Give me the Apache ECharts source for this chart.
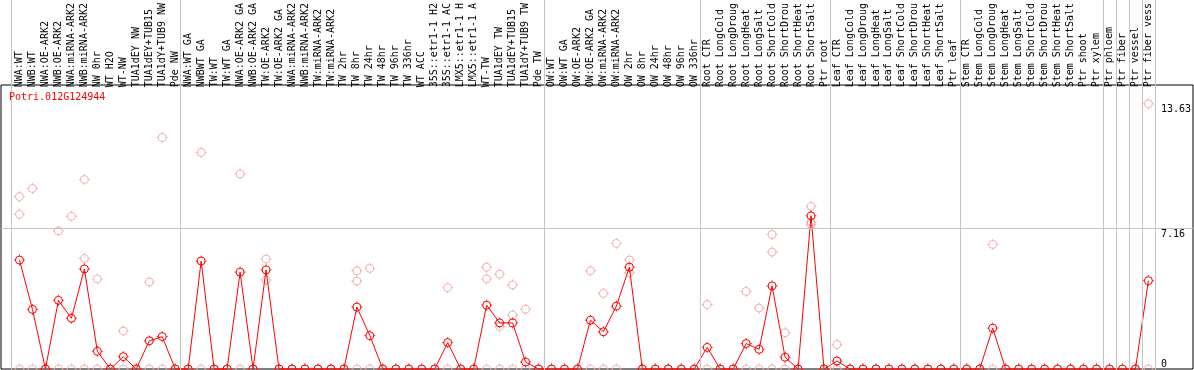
<!DOCTYPE html>
<html><head><meta charset="utf-8">
<script src="https://cdn.jsdelivr.net/npm/echarts@6/dist/echarts.min.js"></script>
<style>html,body{margin:0;padding:0;background:#fff}#c{width:1194px;height:370px}</style>
</head><body><div id="c"></div>
<script>
const geneId = 'Potri.012G124944';

const categories = [
  'NWA:WT','NWB:WT','NWA:OE-ARK2','NWB:OE-ARK2','NWA:miRNA-ARK2','NWB:miRNA-ARK2','NW 0hr','WT H2O','WT-NW',
  'TUA1dEY NW','TUA1dEY+TUB15','TUA1dY+TUB9 NW','Pde NW',
  'NWA:WT GA','NWBWT GA','TW:WT','TW:WT GA','NWA:OE-ARK2 GA','NWB:OE-ARK2 GA','TW:OE-ARK2','TW:OE-ARK2 GA',
  'NWA:miRNA-ARK2','NWB:miRNA-ARK2','TW:miRNA-ARK2','TW:miRNA-ARK2','TW 2hr','TW 8hr','TW 24hr','TW 48hr','TW 96hr',
  'TW 336hr','WT ACC','35S::etr1-1 H2','35S::etr1-1 AC','LMX5::etr1-1 H','LMX5::etr1-1 A','WT-TW','TUA1dEY TW',
  'TUA1dEY+TUB15','TUA1dY+TUB9 TW','Pde TW',
  'OW:WT','OW:WT GA','OW:OE-ARK2','OW:OE-ARK2 GA','OW:miRNA-ARK2','OW:miRNA-ARK2','OW 2hr','OW 8hr','OW 24hr',
  'OW 48hr','OW 96hr','OW 336hr',
  'Root CTR','Root LongCold','Root LongDroug','Root LongHeat','Root LongSalt','Root ShortCold','Root ShortDrou',
  'Root ShortHeat','Root ShortSalt','Ptr root',
  'Leaf CTR','Leaf LongCold','Leaf LongDroug','Leaf LongHeat','Leaf LongSalt','Leaf ShortCold','Leaf ShortDrou',
  'Leaf ShortHeat','Leaf ShortSalt','Ptr leaf',
  'Stem CTR','Stem LongCold','Stem LongDroug','Stem LongHeat','Stem LongSalt','Stem ShortCold','Stem ShortDrou',
  'Stem ShortHeat','Stem ShortSalt','Ptr shoot','Ptr xylem',
  'Ptr phloem','Ptr fiber','Ptr vessel','Ptr fiber vess'
];

// mean expression per sample
const meanValues = [
  5.65,3.09,0,3.56,2.63,5.19,0.92,0,0.64,0,1.46,1.68,0,
  0,5.60,0,0,5.02,0,5.14,0,0,0,0,0,0,3.21,1.73,0,0,0,0,0,1.37,0,0,3.31,2.39,2.39,0.36,0,
  0,0,0,2.53,1.93,3.26,5.28,0,0,0,0,0,
  1.12,0,0,1.32,1.02,4.31,0.61,0,7.94,0,
  0.41,0,0,0,0,0,0,0,0,0,
  0,0,2.12,0,0,0,0,0,0,0,0,
  0,0,0,4.58
];

// individual replicate values per sample
const replicateValues = [
  [8.94,8.02,0],[9.36,0],[0],[7.16,0],[7.92,0],[9.82,5.73,0],[4.67,0],[0],[1.97,0],[0],[4.51,0],[12.0,0],[0],
  [0],[11.23,0],[0],[0],[10.11,0],[0],[5.70,4.61],[0],[0],[0],[0],[0],[0],[5.09,4.56,0],[5.22,0],[0],[0],
  [0],[0],[0],[4.22,0],[0],[0],[5.28,4.67,0],[4.92,2.20,0],[4.36,2.80,0],[3.10,0],[0],
  [0],[0],[0],[5.09,0],[3.92,0],[6.51,0],[5.65,4.99],[0],[0],[0],[0],[0],
  [3.34,0],[0],[0],[4.02,0],[3.16,0],[6.97,6.06,0],[1.88,0],[0],[8.43,7.62,7.50],[0],
  [1.27,0],[0],[0],[0],[0],[0],[0],[0],[0],[0],
  [0],[0],[6.46,0],[0],[0],[0],[0],[0],[0],[0],[0],
  [0],[0],[0],[13.75,0]
];

const groupSizes = [13, 28, 12, 10, 10, 11, 1, 1, 1, 1];
const yTickLabels = [0, 7.16, 13.63];
const refLineValue = 7.16;
const yMax = 14.45;

// ---- build ----
const FONT = 'DejaVu Sans Mono';
const ticks = 'path://M0,-5.5L0,-3.5M0,3.5L0,5.5M-5.5,0L-3.5,0M3.5,0L5.5,0';
const N = categories.length;
const boundaries = [0];
groupSizes.forEach(s => boundaries.push(boundaries[boundaries.length - 1] + s));
const repPoints = [];
replicateValues.forEach((arr, i) => arr.forEach(v => repPoints.push([i, v])));
const RED = '#ff0000', PALE = '#eea0a0';

function markerSeries(data, color, z, shape, size) {
  return {type: 'scatter', xAxisIndex: 0, yAxisIndex: 0, data: data, symbol: shape, symbolSize: size, z: z,
          silent: true, itemStyle: {color: 'rgba(0,0,0,0)', borderColor: color, borderWidth: 1}};
}

const chart = echarts.init(document.getElementById('c'), null, {renderer: 'canvas'});
chart.setOption({
  animation: false,
  backgroundColor: '#fff',
  title: {
    text: geneId, left: 9, top: 92, padding: 0,
    textStyle: {color: RED, fontSize: 10, fontWeight: 'normal', fontFamily: FONT}
  },
  grid: [
    {left: 13, right: 37, top: 85, bottom: 1},
    {left: 1, right: 1, top: 85, bottom: 1, show: true, borderColor: '#000', borderWidth: 1, backgroundColor: 'transparent'},
    {left: 0, right: 37, top: 0, bottom: 0}
  ],
  xAxis: [
    {gridIndex: 0, type: 'category', position: 'top', data: categories, boundaryGap: true,
     axisLine: {show: false}, axisTick: {show: false}, splitLine: {show: false},
     axisLabel: {interval: 0, rotate: 90, margin: 3, fontSize: 10, fontFamily: FONT, color: '#000'}},
    {gridIndex: 1, type: 'value', min: 0, max: 1, show: false},
    {gridIndex: 2, type: 'value', min: -1.5, max: N - 0.5, show: false}
  ],
  yAxis: [
    {gridIndex: 0, type: 'value', min: 0, max: yMax, show: false},
    {gridIndex: 0, type: 'value', min: 0, max: yMax, position: 'right',
     axisLine: {show: false}, axisTick: {show: false}, splitLine: {show: false},
     axisLabel: {customValues: yTickLabels.filter(v => v > 0), verticalAlign: 'top', align: 'left', margin: 6,
                 lineHeight: 7, fontSize: 10, fontFamily: FONT, color: '#000'}},
    {gridIndex: 0, type: 'value', min: 0, max: yMax, position: 'right',
     axisLine: {show: false}, axisTick: {show: false}, splitLine: {show: false},
     axisLabel: {customValues: yTickLabels.filter(v => v === 0), verticalAlign: 'bottom', align: 'left', margin: 6,
                 fontSize: 10, fontFamily: FONT, color: '#000'}},
    {gridIndex: 1, type: 'value', min: 0, max: yMax, show: false},
    {gridIndex: 2, type: 'value', min: 0, max: 1, show: false}
  ],
  series: [
    {type: 'line', xAxisIndex: 2, yAxisIndex: 4, data: [], z: 0, silent: true,
     markLine: {silent: true, symbol: ['none', 'none'], label: {show: false},
                lineStyle: {color: '#c4c4c4', width: 1, type: 'solid'},
                data: boundaries.map(k => ({xAxis: k - 0.65}))}},
    {type: 'line', xAxisIndex: 1, yAxisIndex: 3, data: [], z: 0, silent: true,
     markLine: {silent: true, symbol: ['none', 'none'], label: {show: false},
                lineStyle: {color: '#c4c4c4', width: 1, type: 'solid'},
                data: [{yAxis: refLineValue}]}},
    markerSeries(repPoints, PALE, 2, 'circle', 8),
    markerSeries(repPoints, PALE, 2, ticks, 11),
    {type: 'line', xAxisIndex: 0, yAxisIndex: 0, data: meanValues, symbol: 'circle', symbolSize: 8,
     showAllSymbol: true, z: 3, silent: true, clip: false,
     lineStyle: {color: RED, width: 1},
     itemStyle: {color: 'rgba(0,0,0,0)', borderColor: RED, borderWidth: 1}},
    markerSeries(meanValues, RED, 4, ticks, 11)
  ]
});
</script>
</body></html>
